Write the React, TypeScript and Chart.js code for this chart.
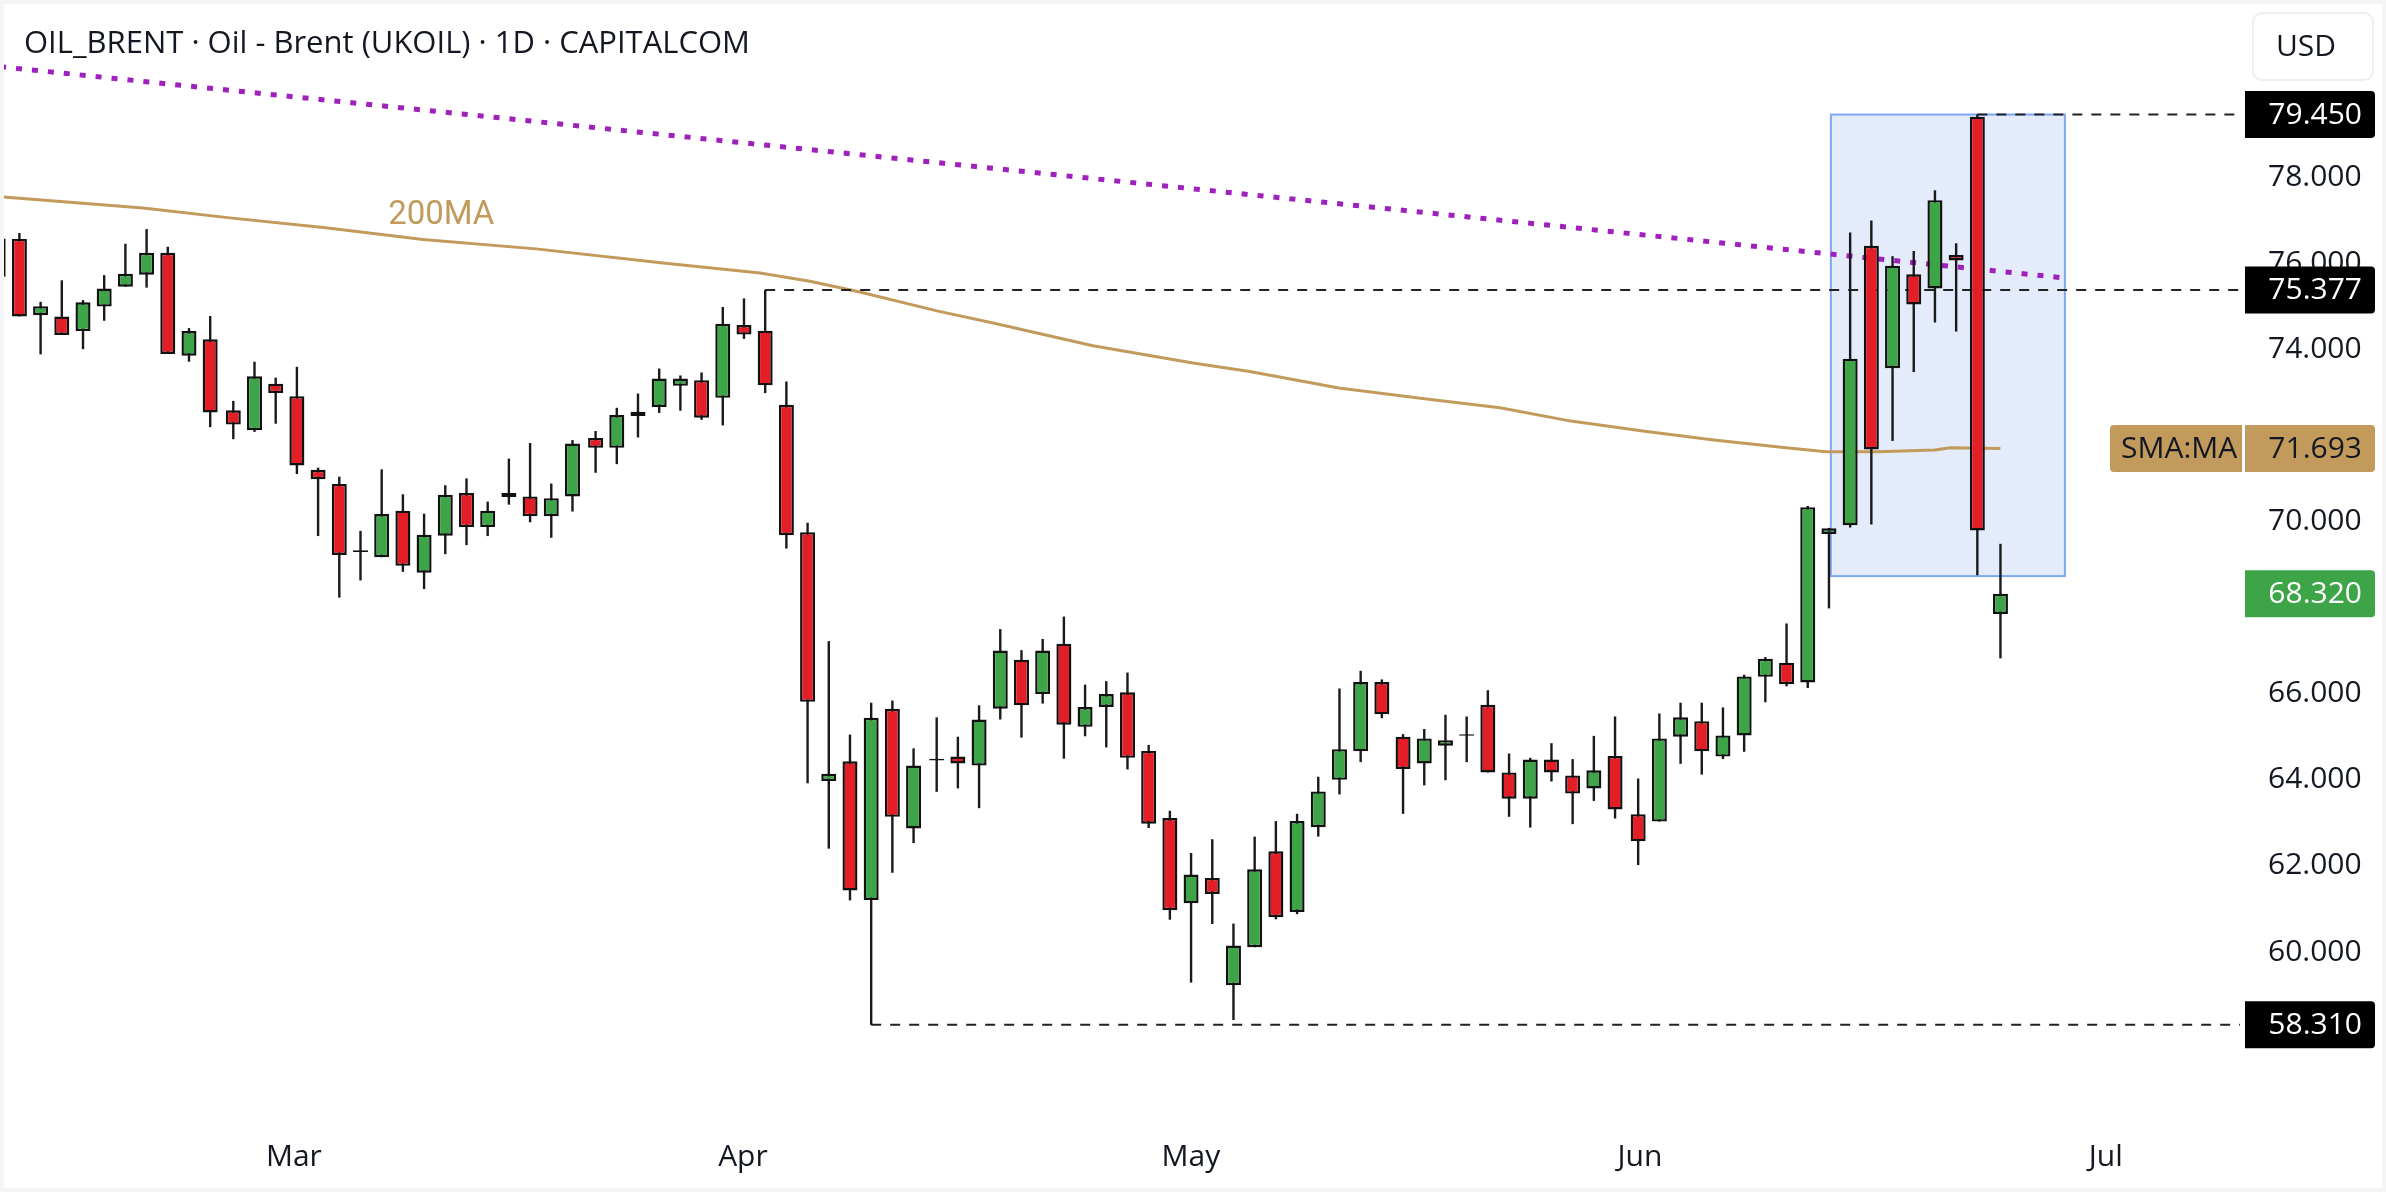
import { useEffect, useRef } from "react";
import { Chart, registerables } from "chart.js";

Chart.register(...registerables);

const opens = [
  75.68, 76.56, 74.79, 74.76, 74.42, 74.99, 75.45, 75.73, 76.24, 73.85, 74.23, 72.58, 72.12, 73.2, 72.91, 71.2,
  70.87, 69.33, 69.17, 70.25, 68.81, 69.67, 70.66, 69.87, 70.66, 70.58, 70.12, 70.58, 71.94, 71.71, 72.45, 72.66,
  73.15, 73.28, 72.87, 74.56, 74.43, 72.71, 69.75, 63.97, 64.43, 61.21, 65.65, 62.87, 64.49, 64.54, 64.33, 65.65,
  66.79, 65.99, 67.16, 65.23, 65.69, 66.03, 64.67, 63.11, 61.13, 61.72, 59.23, 60.11, 62.34, 60.93, 62.9, 64.0,
  64.66, 66.27, 65.0, 64.38, 64.79, 65.06, 65.74, 64.17, 63.56, 64.47, 64.1, 63.8, 64.55, 63.2, 63.03, 65.0,
  65.36, 64.54, 65.03, 66.39, 66.72, 66.26, 69.71, 69.91, 76.4, 73.56, 75.74, 75.41, 76.19, 79.4, 67.85,
];
const highs = [
  76.6, 76.7, 75.1, 75.6, 75.14, 75.72, 76.45, 76.79, 76.38, 74.49, 74.77, 72.8, 73.71, 73.34, 73.59, 71.25,
  71.04, 69.78, 71.21, 70.63, 70.18, 70.84, 71.0, 70.46, 71.46, 71.82, 70.88, 71.89, 72.1, 72.64, 72.97, 73.55,
  73.39, 73.46, 74.98, 75.18, 75.377, 73.25, 69.97, 67.22, 65.05, 65.79, 65.84, 64.73, 65.45, 65.0, 65.73, 67.5,
  67.01, 67.27, 67.79, 66.21, 66.29, 66.49, 64.81, 63.28, 62.3, 62.62, 60.66, 62.68, 63.04, 63.21, 64.07, 66.12,
  66.53, 66.33, 65.06, 65.18, 65.51, 65.47, 66.08, 64.61, 64.51, 64.85, 64.48, 65.02, 65.47, 64.03, 65.54, 65.79,
  65.79, 65.68, 66.44, 66.85, 67.63, 70.36, 69.85, 76.71, 76.99, 76.16, 76.28, 77.69, 76.46, 79.45, 69.48,
];
const lows = [
  75.6, 74.76, 73.88, 74.33, 74.0, 74.66, 75.45, 75.43, 73.89, 73.71, 72.19, 71.91, 72.08, 72.27, 71.1, 69.66,
  68.23, 68.63, 69.17, 68.83, 68.43, 69.24, 69.45, 69.66, 70.39, 69.98, 69.62, 70.23, 71.13, 71.33, 71.95, 72.52,
  72.57, 72.36, 72.23, 74.24, 72.98, 69.37, 63.92, 62.4, 61.2, 58.31, 61.84, 62.53, 63.72, 63.8, 63.34, 65.4,
  64.98, 65.77, 64.49, 65.01, 64.75, 64.24, 62.88, 60.75, 59.29, 60.65, 58.42, 60.11, 60.76, 60.88, 62.68, 63.66,
  64.41, 65.43, 63.21, 63.87, 63.99, 64.41, 64.17, 63.14, 62.89, 63.96, 62.97, 63.51, 63.1, 62.02, 63.03, 64.37,
  64.12, 64.48, 64.65, 65.8, 66.17, 66.13, 67.98, 69.86, 69.93, 71.87, 73.47, 74.62, 74.41, 68.75, 66.82,
];
const closes = [
  76.57, 74.76, 75.0, 74.33, 75.09, 75.41, 75.75, 76.24, 73.89, 74.42, 72.53, 72.25, 73.37, 72.98, 71.3, 70.98,
  69.22, 69.29, 70.17, 68.97, 69.69, 70.62, 69.87, 70.25, 70.57, 70.12, 70.54, 71.81, 71.71, 72.47, 72.55, 73.32,
  73.32, 72.41, 74.59, 74.34, 73.16, 69.68, 65.81, 64.14, 61.43, 65.44, 63.14, 64.33, 64.45, 64.38, 65.4, 67.0,
  65.73, 67.0, 65.28, 65.69, 65.99, 64.51, 62.98, 60.97, 61.8, 61.35, 60.15, 61.92, 60.81, 63.04, 63.73, 64.71,
  66.27, 65.52, 64.25, 64.96, 64.92, 65.02, 64.17, 63.56, 64.47, 64.17, 63.68, 64.22, 63.31, 62.57, 64.96, 65.45,
  64.66, 65.03, 66.4, 66.81, 66.22, 70.33, 69.84, 73.78, 71.67, 75.94, 75.04, 77.46, 76.06, 69.79, 68.32,
];
// bars after which the time axis leaves a small extra gap
const sessionGaps = [10, 27, 43, 76, 93];

const maSlots = [
  0.09, 6.83, 10.93, 15.45, 20.04, 25.37, 31.36, 35.94, 38.29, 40.65, 44.28, 46.93, 51.64, 56.36, 59.04, 63.24,
  67.47, 70.84, 74.19, 77.58, 80.93, 84.33, 86.21, 88.62, 91.36, 92.07, 94.45,
];
const maValues = [
  77.54, 77.28, 77.05, 76.82, 76.55, 76.33, 76.0, 75.77, 75.58, 75.33, 74.89, 74.61, 74.08, 73.68, 73.48, 73.1,
  72.84, 72.64, 72.33, 72.1, 71.89, 71.71, 71.62, 71.62, 71.66, 71.71, 71.693,
];
const trendSlots = [0.09, 97.35];
const trendValues = [80.56, 75.66];

const monthSlots = [13.95, 35.13, 56.26, 77.44, 99.42];
const monthLabels = ["Mar", "Apr", "May", "Jun", "Jul"];
// 68 and 72 are dropped, the tags sit on top of them
const priceTicks = [58, 60, 62, 64, 66, 70, 74, 76, 78];

// bar index where each level line starts, and its value
const levelBars = [93, 36, 41];
const levelValues = [79.45, 75.377, 58.31];

const boxSlots = [86.45, 97.49];
const boxValues = [79.45, 68.73];

const FONT = '"Open Sans"';
const RED = "#E31E27";
const GREEN = "#3DA548";
const TAN = "#C29A5C";
const INK = "#131722";
const X_MIN = 0.085;
const X_MAX = 105.75;

const slotOf = (i: number) => i + sessionGaps.filter((g) => g < i).length * 0.09;
const slots = opens.map((_, i) => slotOf(i));

const roundRect = (ctx: CanvasRenderingContext2D, x: number, y: number, w: number, h: number, r: number | number[]) => {
  ctx.beginPath();
  ctx.roundRect(x, y, w, h, r);
};

const boxPlugin = {
  id: "rangeBox",
  beforeDatasetsDraw(chart: any) {
    const { ctx, scales } = chart;
    const left = scales.x.getPixelForValue(boxSlots[0]);
    const right = scales.x.getPixelForValue(boxSlots[1]);
    const top = scales.y.getPixelForValue(boxValues[0]);
    const bottom = scales.y.getPixelForValue(boxValues[1]);
    ctx.save();
    ctx.fillStyle = "#E4EBFA";
    ctx.strokeStyle = "#7FA6F2";
    ctx.lineWidth = 2;
    ctx.fillRect(left, top, right - left, bottom - top);
    ctx.strokeRect(left, top, right - left, bottom - top);
    ctx.restore();
  },
};

const overlayPlugin = {
  id: "overlay",
  afterDraw(chart: any) {
    const { ctx, scales, width, height } = chart;
    const tagLeft = 2245;
    const tagW = 130;
    const tagH = 47;
    ctx.save();
    ctx.textBaseline = "middle";

    const priceTag = (value: number, fill: string, color: string) => {
      const y = scales.y.getPixelForValue(value);
      ctx.fillStyle = fill;
      roundRect(ctx, tagLeft, y - tagH / 2, tagW, tagH, [0, 4, 4, 0]);
      ctx.fill();
      ctx.fillStyle = color;
      ctx.font = `30px ${FONT}`;
      ctx.textAlign = "right";
      ctx.fillText(value.toFixed(3), 2362, y + 1);
    };
    levelValues.forEach((v) => priceTag(v, "#000000", "#FFFFFF"));
    priceTag(closes[closes.length - 1], GREEN, "#FFFFFF");
    priceTag(maValues[maValues.length - 1], TAN, INK);

    // SMA name cell left of its price
    const maY = scales.y.getPixelForValue(maValues[maValues.length - 1]);
    ctx.fillStyle = TAN;
    roundRect(ctx, 2110, maY - tagH / 2, 132, tagH, [4, 0, 0, 4]);
    ctx.fill();
    ctx.fillStyle = INK;
    ctx.textAlign = "left";
    ctx.fillText("SMA:MA", 2121, maY + 1);

    ctx.fillStyle = TAN;
    ctx.font = `33px Roboto`;
    ctx.textAlign = "center";
    ctx.fillText("200MA", scales.x.getPixelForValue(20.9), scales.y.getPixelForValue(77.1));

    ctx.fillStyle = INK;
    ctx.font = `31px ${FONT}`;
    ctx.textAlign = "left";
    ctx.fillText("OIL_BRENT · Oil - Brent (UKOIL) · 1D · CAPITALCOM", 24, 44);

    ctx.strokeStyle = "#EFEFEF";
    ctx.lineWidth = 2;
    roundRect(ctx, 2253, 13, 120, 67, 9);
    ctx.stroke();
    ctx.font = `30px ${FONT}`;
    ctx.textAlign = "center";
    ctx.fillText("USD", 2306, 47);

    ctx.strokeStyle = "#F5F5F5";
    ctx.lineWidth = 4;
    ctx.strokeRect(2, 2, width - 4, height - 6);
    ctx.restore();
  },
};

export default function App() {
  const canvasRef = useRef<HTMLCanvasElement>(null);

  useEffect(() => {
    if (!canvasRef.current) return;
    const lineBase = { type: "line", pointRadius: 0, tension: 0, fill: false, order: 3 };

    const chart = new Chart(canvasRef.current, {
      type: "bar",
      plugins: [boxPlugin, overlayPlugin],
      data: {
        datasets: [
          ...levelValues.map((v, k) => ({
            ...lineBase,
            label: `level ${v}`,
            data: [
              { x: slotOf(levelBars[k]), y: v },
              { x: X_MAX, y: v },
            ],
            borderColor: "#222222",
            borderWidth: 2,
            borderDash: [10, 9],
          })),
          {
            ...lineBase,
            label: "trend",
            data: trendSlots.map((x, k) => ({ x, y: trendValues[k] })),
            borderColor: "#A020BE",
            borderWidth: 5,
            borderDash: [6, 10],
          },
          {
            ...lineBase,
            label: "200MA",
            data: maSlots.map((x, k) => ({ x, y: maValues[k] })),
            borderColor: TAN,
            borderWidth: 3,
          },
          {
            label: "wicks",
            data: slots.map((x, i) => ({ x, y: [lows[i], highs[i]] })),
            backgroundColor: "#1A1A1A",
            borderWidth: 0,
            grouped: false,
            barPercentage: 1,
            categoryPercentage: 1,
            maxBarThickness: 2.4,
            inflateAmount: 0,
            order: 2,
          },
          {
            label: "bodies",
            data: slots.map((x, i) => ({ x, y: [opens[i], closes[i]] })),
            backgroundColor: slots.map((_, i) => (closes[i] > opens[i] ? GREEN : RED)),
            borderColor: "#111111",
            borderWidth: 2.4,
            borderSkipped: false,
            grouped: false,
            barPercentage: 1,
            categoryPercentage: 1,
            maxBarThickness: 15,
            inflateAmount: 0,
            order: 1,
          },
        ] as any,
      },
      options: {
        animation: false,
        responsive: false,
        devicePixelRatio: 1,
        layout: { padding: 0 },
        plugins: { legend: { display: false }, title: { display: false }, tooltip: { enabled: false } },
        scales: {
          x: {
            type: "linear",
            offset: false,
            min: X_MIN,
            max: X_MAX,
            grid: { display: false, drawTicks: false, offset: false },
            border: { display: false },
            afterFit: (axis: any) => {
              axis.height = 94;
              axis.paddingLeft = 0;
              axis.paddingRight = 0;
            },
            afterBuildTicks: (axis: any) => {
              axis.ticks = monthSlots.map((value) => ({ value }));
            },
            ticks: {
              autoSkip: false,
              maxRotation: 0,
              padding: 39,
              color: INK,
              font: { family: "Open Sans", size: 30, weight: 500 },
              callback: (_v: any, index: number) => monthLabels[index],
            },
          },
          y: {
            position: "right",
            min: 56.563,
            max: 82.11,
            grid: { display: false, drawTicks: false },
            border: { display: false },
            afterFit: (axis: any) => {
              axis.width = 146;
              axis.paddingTop = 0;
              axis.paddingBottom = 0;
            },
            afterBuildTicks: (axis: any) => {
              axis.ticks = priceTicks.map((value) => ({ value }));
            },
            ticks: {
              autoSkip: false,
              padding: 28,
              color: INK,
              font: { family: "Open Sans", size: 30 },
              callback: (v: any) => Number(v).toFixed(3),
            },
          },
        },
      } as any,
    });

    return () => chart.destroy();
  }, []);

  return (
    <div style={{ position: "fixed", inset: 0, background: "#FFFFFF" }}>
      <canvas ref={canvasRef} width={2386} height={1194} style={{ display: "block" }} />
    </div>
  );
}
